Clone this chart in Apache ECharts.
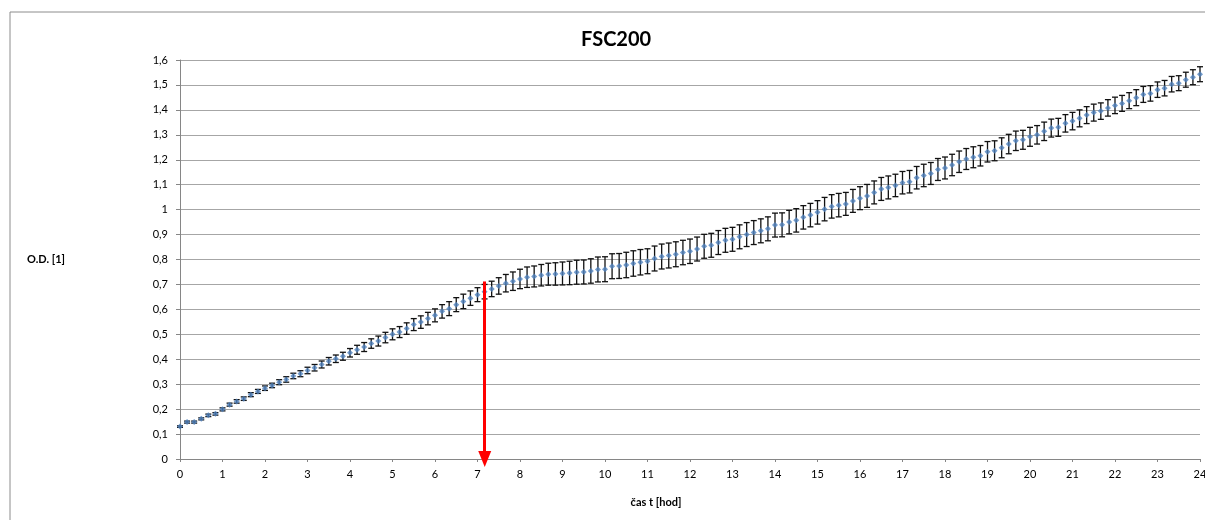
<!DOCTYPE html>
<html>
<head>
<meta charset="utf-8">
<title>FSC200</title>
<script src="https://cdn.jsdelivr.net/npm/echarts@6/dist/echarts.min.js"></script>
<style>
  html, body { margin: 0; padding: 0; background: #fff; }
  #chart { width: 1205px; height: 520px; }
</style>
</head>
<body>
<div id="chart"></div>
<script>
// mereni kazdych 10 minut, 0 - 24 h
var stepMinutes = 10;

// prumer O.D.
var odMean = [
  0.130, 0.148, 0.148, 0.161, 0.175, 0.181,
  0.199, 0.218, 0.231, 0.242, 0.258, 0.271,
  0.284, 0.295, 0.308, 0.319, 0.333, 0.342,
  0.355, 0.366, 0.379, 0.392, 0.402, 0.412,
  0.426, 0.438, 0.449, 0.463, 0.473, 0.487,
  0.500, 0.509, 0.523, 0.539, 0.549, 0.563,
  0.576, 0.592, 0.603, 0.619, 0.632, 0.645,
  0.659, 0.671, 0.682, 0.694, 0.705, 0.713,
  0.722, 0.729, 0.732, 0.737, 0.741, 0.742,
  0.744, 0.746, 0.749, 0.750, 0.754, 0.760,
  0.761, 0.773, 0.774, 0.778, 0.784, 0.789,
  0.793, 0.804, 0.812, 0.816, 0.821, 0.828,
  0.833, 0.842, 0.853, 0.857, 0.868, 0.877,
  0.881, 0.891, 0.900, 0.908, 0.915, 0.923,
  0.938, 0.939, 0.950, 0.957, 0.969, 0.978,
  0.989, 1.002, 1.013, 1.018, 1.023, 1.035,
  1.046, 1.055, 1.069, 1.083, 1.089, 1.097,
  1.108, 1.112, 1.128, 1.137, 1.145, 1.161,
  1.167, 1.179, 1.192, 1.203, 1.210, 1.216,
  1.232, 1.236, 1.248, 1.263, 1.276, 1.280,
  1.292, 1.300, 1.314, 1.327, 1.330, 1.346,
  1.355, 1.366, 1.379, 1.389, 1.395, 1.408,
  1.418, 1.426, 1.437, 1.449, 1.462, 1.466,
  1.481, 1.487, 1.503, 1.507, 1.521, 1.531,
  1.543
];

// smerodatna odchylka (+/-)
var odErr = [
  0.003, 0.004, 0.004, 0.004, 0.005, 0.005,
  0.006, 0.006, 0.007, 0.007, 0.008, 0.008,
  0.009, 0.009, 0.010, 0.011, 0.011, 0.012,
  0.013, 0.013, 0.014, 0.015, 0.015, 0.016,
  0.017, 0.018, 0.018, 0.019, 0.020, 0.021,
  0.022, 0.022, 0.023, 0.024, 0.025, 0.025,
  0.026, 0.027, 0.028, 0.028, 0.029, 0.029,
  0.028, 0.029, 0.031, 0.033, 0.035, 0.037,
  0.039, 0.041, 0.042, 0.043, 0.044, 0.045,
  0.046, 0.047, 0.048, 0.048, 0.049, 0.050,
  0.050, 0.050, 0.050, 0.051, 0.051, 0.051,
  0.050, 0.050, 0.050, 0.050, 0.050, 0.049,
  0.049, 0.048, 0.048, 0.048, 0.048, 0.048,
  0.048, 0.048, 0.048, 0.048, 0.048, 0.048,
  0.048, 0.048, 0.047, 0.047, 0.047, 0.047,
  0.047, 0.047, 0.047, 0.047, 0.046, 0.046,
  0.046, 0.046, 0.046, 0.046, 0.046, 0.045,
  0.045, 0.045, 0.045, 0.045, 0.044, 0.044,
  0.044, 0.043, 0.043, 0.042, 0.042, 0.041,
  0.041, 0.040, 0.040, 0.039, 0.039, 0.038,
  0.038, 0.037, 0.037, 0.036, 0.036, 0.035,
  0.035, 0.034, 0.034, 0.034, 0.033, 0.033,
  0.033, 0.032, 0.032, 0.032, 0.032, 0.031,
  0.031, 0.031, 0.031, 0.030, 0.030, 0.030,
  0.030
];

// cervena sipka - konec exponencialni faze
var arrowX = 7.17;
var arrowTop = 0.712;

var points = [];
var bars = [];
for (var i = 0; i < odMean.length; i++) {
    var t = i * stepMinutes / 60;
    points.push([t, odMean[i]]);
    bars.push([t, odMean[i] - odErr[i], odMean[i] + odErr[i]]);
}

function comma(v) {
    return String(Math.round(v * 10) / 10).replace('.', ',');
}

var font = 'Lato, "Open Sans", sans-serif';

var myChart = echarts.init(document.getElementById('chart'));
var option = {
    backgroundColor: '#fff',
    animation: false,
    textStyle: { fontFamily: font },
    title: {
        text: 'FSC200',
        left: 576,
        top: 25,
        textStyle: { fontSize: 20, fontWeight: 'bold', color: '#000', fontFamily: font }
    },
    graphic: [{
        type: 'rect',
        shape: { x: 10, y: 12, width: 1210, height: 520 },
        style: { fill: 'none', stroke: '#8c8c8c', lineWidth: 1 },
        silent: true
    }],
    grid: { left: 180, right: 5, top: 60, bottom: 61, outerBoundsMode: 'none', containLabel: false },
    xAxis: {
        type: 'value',
        min: 0,
        max: 24,
        interval: 1,
        name: 'čas t [hod]',
        nameLocation: 'middle',
        nameGap: 38,
        nameTextStyle: { fontSize: 11, fontWeight: 'bold', color: '#000', padding: [0, 68, 0, 0] },
        axisLine: { lineStyle: { color: '#868686' } },
        axisTick: { show: true, length: 3, lineStyle: { color: '#868686' } },
        axisLabel: { color: '#000', fontSize: 11, margin: 10 },
        splitLine: { show: false }
    },
    yAxis: {
        type: 'value',
        min: 0,
        max: 1.6,
        interval: 0.1,
        name: 'O.D. [1]',
        nameLocation: 'middle',
        nameRotate: 0,
        nameGap: 115,
        nameTextStyle: { fontSize: 11, fontWeight: 'bold', color: '#000' },
        axisLine: { show: true, lineStyle: { color: '#868686' } },
        axisTick: { show: true, length: 4, lineStyle: { color: '#868686' } },
        axisLabel: { color: '#000', fontSize: 11, margin: 12, formatter: comma },
        splitLine: { lineStyle: { color: '#a6a6a6', width: 1 } }
    },
    series: [
        {
            name: 'chyba',
            type: 'custom',
            data: bars,
            z: 2,
            silent: true,
            renderItem: function (params, api) {
                var x = api.value(0);
                var lo = api.coord([x, api.value(1)]);
                var hi = api.coord([x, api.value(2)]);
                var w = 3;
                var st = { stroke: '#111', lineWidth: 1.3 };
                return {
                    type: 'group',
                    children: [
                        { type: 'line', shape: { x1: lo[0], y1: lo[1], x2: hi[0], y2: hi[1] }, style: st },
                        { type: 'line', shape: { x1: lo[0] - w, y1: lo[1], x2: lo[0] + w, y2: lo[1] }, style: st },
                        { type: 'line', shape: { x1: hi[0] - w, y1: hi[1], x2: hi[0] + w, y2: hi[1] }, style: st }
                    ]
                };
            }
        },
        {
            name: 'O.D.',
            type: 'scatter',
            data: points,
            z: 3,
            symbol: 'diamond',
            symbolSize: 6,
            itemStyle: { color: '#4f81bd' },
            markLine: {
                silent: true,
                symbol: ['none', 'triangle'],
                symbolSize: [13, 16],
                label: { show: false },
                lineStyle: { color: '#ff0000', width: 3, type: 'solid' },
                data: [[{ coord: [arrowX, arrowTop] }, { coord: [arrowX, 0] }]]
            }
        }
    ]
};
myChart.setOption(option);
</script>
</body>
</html>
